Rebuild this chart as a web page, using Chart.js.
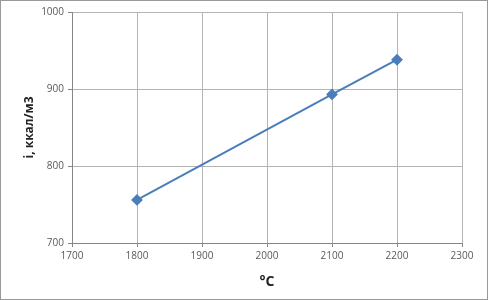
<!DOCTYPE html>
<html>
<head>
<meta charset="utf-8">
<script src="https://cdn.jsdelivr.net/npm/chart.js@4/dist/chart.umd.min.js"></script>
<style>
  html, body { margin: 0; padding: 0; background: #fff; }
  #wrap { width: 488px; height: 300px; }
</style>
</head>
<body>
<div id="wrap"><canvas id="chart" width="488" height="300"></canvas></div>
<script>
// temperature, °C
const temps = [1800, 2100, 2200];
// enthalpy i, ккал/м3
const enthalpy = [756, 893, 938];
const xTicks = [1700, 1800, 1900, 2000, 2100, 2200, 2300];
const yTicks = [700, 800, 900, 1000];

// thin frame around the whole picture
const framePlugin = {
    id: 'frame',
    afterDraw(chart) {
        const ctx = chart.ctx;
        ctx.save();
        ctx.strokeStyle = '#9a9a9a';
        ctx.lineWidth = 1;
        ctx.strokeRect(0.5, 0.5, chart.width - 1, chart.height - 1);
        ctx.restore();
    }
};

const tickFont = { family: 'Open Sans', size: 10 };
const plain = v => String(v);

new Chart(document.getElementById('chart').getContext('2d'), {
    type: 'scatter',
    data: {
        datasets: [{
            data: temps.map((t, i) => ({ x: t, y: enthalpy[i] })),
            showLine: true,
            borderColor: '#4a7ebb',
            backgroundColor: '#4a7ebb',
            borderWidth: 2,
            pointStyle: 'rectRot',
            pointRadius: 4.5,
            pointHoverRadius: 4.5
        }]
    },
    options: {
        responsive: false,
        animation: false,
        layout: { padding: { left: 22, right: 26, top: 12, bottom: 10 } },
        plugins: { legend: { display: false }, tooltip: { enabled: false } },
        scales: {
            x: {
                type: 'linear',
                min: xTicks[0],
                max: xTicks[xTicks.length - 1],
                afterBuildTicks: s => { s.ticks = xTicks.map(v => ({ value: v })); },
                afterFit: s => { s.height = 47; },
                grid: { color: '#b4b4b4', tickLength: 4, tickColor: '#868686' },
                border: { color: '#868686' },
                ticks: { font: tickFont, color: '#595959', padding: 3, maxRotation: 0, callback: plain },
                title: {
                    display: true,
                    text: '°C',
                    font: { family: 'Open Sans', size: 14, weight: 'bold' },
                    color: '#222',
                    padding: { top: 4, bottom: 0 }
                }
            },
            y: {
                min: yTicks[0],
                max: yTicks[yTicks.length - 1],
                afterBuildTicks: s => { s.ticks = yTicks.map(v => ({ value: v })); },
                afterFit: s => { s.width = 50; },
                grid: { color: '#b4b4b4', tickLength: 4, tickColor: '#868686' },
                border: { color: '#868686' },
                ticks: { font: tickFont, color: '#595959', padding: 4, callback: plain },
                title: {
                    display: true,
                    text: 'i, ккал/м3',
                    font: { family: 'Open Sans', size: 12, weight: 'bold' },
                    color: '#222',
                    padding: { top: 0, bottom: 8 }
                }
            }
        }
    },
    plugins: [framePlugin]
});
</script>
</body>
</html>
